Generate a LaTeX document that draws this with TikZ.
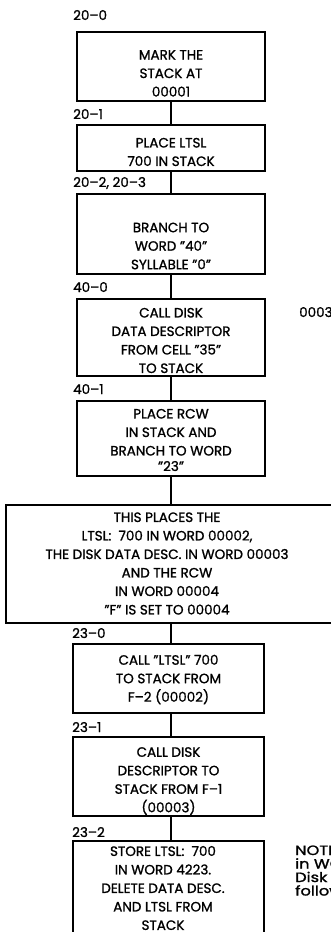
\documentclass[tikz,border=0pt]{standalone}
\usepackage{fontspec}
\setmainfont{Poppins}[FakeBold=1.2]
\begin{document}
\begin{tikzpicture}[x=1pt,y=-1pt]
\tikzset{
  box/.style={draw, line width=1.6pt, inner sep=0pt},
  txt/.style={align=center, font=\fontsize{13.5}{18.5}\selectfont, inner sep=0pt},
  lbl/.style={anchor=base west, font=\fontsize{13.5}{18}\selectfont, inner sep=0pt},
  note/.style={anchor=base west, font=\fontsize{13.5}{13.5}\selectfont, inner sep=0pt},
  wire/.style={line width=1.6pt}
}
\path[use as bounding box] (0,0) rectangle (331,932);
\clip (0,0) rectangle (331,932);
\coordinate (ax) at (171,0);

% boxes
\node[box, minimum width=188pt, minimum height=69pt] (b1) at (171,66.5) {};
\node[box, minimum width=188pt, minimum height=46pt] (b2) at (171,148) {};
\node[box, minimum width=188pt, minimum height=80pt] (b3) at (171,234) {};
\node[box, minimum width=188pt, minimum height=77pt] (b4) at (171,337.5) {};
\node[box, minimum width=188pt, minimum height=75pt] (b5) at (171,438.5) {};
\node[box, minimum width=339pt, minimum height=118pt] (b6) at (175.5,564) {};
\node[box, minimum width=191pt, minimum height=69pt] (b7) at (168.5,678.5) {};
\node[box, minimum width=191pt, minimum height=79pt] (b8) at (168.5,776.5) {};
\node[box, minimum width=191pt, minimum height=109pt] (b9) at (168.5,895.5) {};

% texts
\node[txt] (t1) at (171,73.3) {MARK THE\\STACK AT\\00001};
\node[txt] (t2) at (171,152) {PLACE LTSL\\700 IN STACK};
\node[txt] (t3) at (171,246) {BRANCH TO\\WORD "40"\\SYLLABLE "0"};
\node[txt] (t4) at (171,340.5) {CALL DISK\\DATA DESCRIPTOR\\FROM CELL "35"\\TO STACK};
\node[txt] (t5) at (171,440) {PLACE RCW\\IN STACK AND\\BRANCH TO WORD\\[-3pt]"23"};
\node[txt] (t6) at (167,563.5) {THIS PLACES THE\\LTSL:\ \ 700 IN WORD 00002,\\THE DISK DATA DESC. IN WORD 00003\\AND THE RCW\\IN WORD 00004\\"F" IS SET TO 00004};
\node[txt] (t7) at (168.5,679.5) {CALL "LTSL" 700\\TO STACK FROM\\F–2 (00002)};
\node[txt] (t8) at (168.5,781) {CALL DISK\\DESCRIPTOR TO\\STACK FROM F–1\\(00003)};
\node[txt] (t9) at (163,888) {STORE LTSL:\ \ 700\\IN WORD 4223.\\DELETE DATA DESC.\\AND LTSL FROM\\STACK};

% labels
\node[lbl] (l1) at (73,20) {20–0};
\node[lbl] (l2) at (73,119) {20–1};
\node[lbl] (l3) at (73,187) {20–2, 20–3};
\node[lbl] (l4) at (73,292) {40–0};
\node[lbl] (l5) at (73,394) {40–1};
\node[lbl] (l6) at (72,638) {23–0};
\node[lbl] (l7) at (72,732) {23–1};
\node[lbl] (l8) at (72,837) {23–2};

\node[lbl] (side) at (299,317) {00035};
\node[note] (n1) at (295,855) {\scalebox{1.2}[1]{NOTE:}};
\node[note] (n2) at (295,868.5) {\scalebox{1.2}[1]{in WORD}};
\node[note] (n3) at (295,882) {\scalebox{1.2}[1]{Disk A}};
\node[note] (n4) at (295,895.5) {\scalebox{1.2}[1]{following}};

% connectors
\draw[wire] (b1.south -| ax) -- (b2.north -| ax);
\draw[wire] (b2.south -| ax) -- (b3.north -| ax);
\draw[wire] (b3.south -| ax) -- (b4.north -| ax);
\draw[wire] (b4.south -| ax) -- (b5.north -| ax);
\draw[wire] (b5.south -| ax) -- (b6.north -| ax);
\draw[wire] (b6.south -| ax) -- (b7.north -| ax);
\draw[wire] (b7.south -| ax) -- (b8.north -| ax);
\draw[wire] (b8.south -| ax) -- (b9.north -| ax);
\end{tikzpicture}
\end{document}
